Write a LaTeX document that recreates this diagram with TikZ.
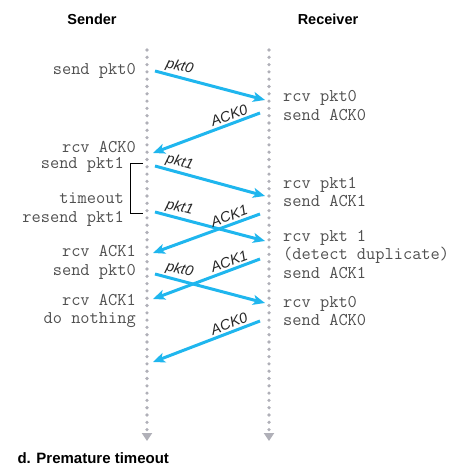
\documentclass[tikz,border=0pt]{standalone}
\usepackage{fontspec}
\setmainfont{Liberation Sans}
\usetikzlibrary{arrows.meta}
\definecolor{msgblue}{HTML}{1FB6EE}
\definecolor{lifegray}{HTML}{B0B0B8}
\definecolor{txtgray}{HTML}{505050}

\begin{document}
\begin{tikzpicture}[x=1pt,y=-1pt]
\tikzstyle{head}=[font=\fontsize{14.5}{16}\selectfont\bfseries]
\tikzstyle{act}=[font=\ttfamily\fontsize{17.9}{18.5}\selectfont, text=txtgray, inner sep=0pt]
\tikzstyle{sndact}=[act, anchor=east, align=right]
\tikzstyle{rcvact}=[act, anchor=west, align=left]
\tikzstyle{lifeline}=[lifegray, line width=3.6pt, line cap=round, dash pattern=on 0pt off 7.3pt, -{Triangle[width=10pt,length=8pt]}]
\tikzstyle{msg}=[msgblue, line width=3pt, -{Stealth[length=12pt,width=10pt,inset=3pt]}]
\tikzstyle{lbl}=[font=\itshape\fontsize{14.5}{16}\selectfont, text=black!85, sloped, above=1pt, inner sep=1pt]
\useasboundingbox (0,0) rectangle (448,476);

\node[head] (sender) at (92,19) {Sender};
\node[head] (receiver) at (328,19) {Receiver};

\coordinate (sndtop) at (147,50);
\coordinate (sndbot) at (147,441);
\coordinate (rcvtop) at (269,50);
\coordinate (rcvbot) at (269,441);
\draw[lifeline] (sndtop) -- (sndbot);
\draw[lifeline] (rcvtop) -- (rcvbot);

% sender side
\node[sndact] (sa) at (136,71) {send pkt0};
\node[sndact] (sb) at (136,147) {rcv ACK0};
\node[sndact] (sc) at (124,165) {send pkt1};
\node[sndact] (sd) at (124,209.5) {timeout\\resend pkt1};
\node[sndact] (se) at (136,262.5) {rcv ACK1\\send pkt0};
\node[sndact] (sf) at (136,311) {rcv ACK1\\do nothing};

% receiver side
\node[rcvact] (ra) at (283,105.5) {rcv pkt0\\send ACK0};
\node[rcvact] (rb) at (283,192) {rcv pkt1\\send ACK1};
\node[rcvact] (rc) at (283,254.5) {rcv pkt 1\\(detect duplicate)\\send ACK1};
\node[rcvact] (rd) at (283,311) {rcv pkt0\\send ACK0};

% timer bracket
\coordinate (tmr1) at (143,163);
\coordinate (tmr2) at (143,213);
\draw[line width=0.8pt] (tmr1) -- ++(-13,0) |- (tmr2);

% message end points
\coordinate (s1) at (155,71);  \coordinate (r1) at (265,100);
\coordinate (r2) at (260,113); \coordinate (s2) at (153,153);
\coordinate (s3) at (155,166); \coordinate (r3) at (265,196);
\coordinate (s4) at (155,212); \coordinate (r4) at (265,241);
\coordinate (r5) at (260,214); \coordinate (s5) at (153,253);
\coordinate (r6) at (260,259); \coordinate (s6) at (153,299);
\coordinate (s7) at (155,274); \coordinate (r7) at (265,303);
\coordinate (r8) at (260,321); \coordinate (s8) at (153,362);

\draw[msg] (s1) -- node[lbl, pos=0.2] {pkt0} (r1);
\draw[msg] (r2) -- node[lbl, pos=0.26] {ACK0} (s2);
\draw[msg] (s3) -- node[lbl, pos=0.2] {pkt1} (r3);
\draw[msg] (s4) -- node[lbl, pos=0.2] {pkt1} (r4);
\draw[msg] (r5) -- node[lbl, pos=0.26] {ACK1} (s5);
\draw[msg] (r6) -- node[lbl, pos=0.26] {ACK1} (s6);
\draw[msg] (s7) -- node[lbl, pos=0.2] {pkt0} (r7);
\draw[msg] (r8) -- node[lbl, pos=0.26] {ACK0} (s8);

\node[head, font=\fontsize{15}{17}\selectfont\bfseries, anchor=west] (caption) at (14,458) {d. Premature timeout};
\end{tikzpicture}
\end{document}
